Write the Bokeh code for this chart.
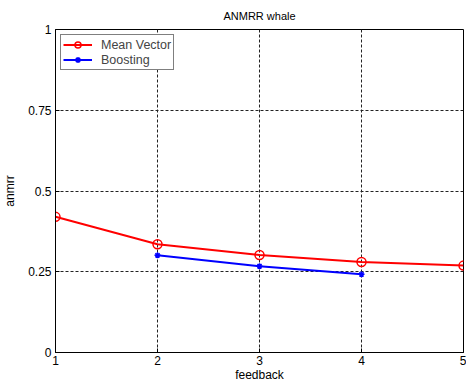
from bokeh.plotting import figure
from bokeh.models import FixedTicker, Range1d, Legend, LegendItem
from bokeh.embed import file_html
from bokeh.resources import INLINE

feedback = [1, 2, 3, 4, 5]
mean_vector = [0.42, 0.335, 0.302, 0.280, 0.269]
boost_x = [2, 3, 4]
boosting = [0.301, 0.267, 0.242]
x_ticks = [1, 2, 3, 4, 5]
y_ticks = [0, 0.25, 0.5, 0.75, 1]
y_tick_labels = ["0", "0.25", "0.5", "0.75", "1"]

FONT = "Liberation Sans"

p = figure(frame_width=408, frame_height=323, output_backend="svg", toolbar_location=None,
           x_range=Range1d(1, 5), y_range=Range1d(0, 1),
           min_border_left=0, min_border_right=3, min_border_top=0, min_border_bottom=0)

p.title.text = "ANMRR whale"
p.title.align = "center"
p.title.text_font = FONT
p.title.text_font_size = "11px"
p.title.text_font_style = "normal"
p.title.text_color = "black"
p.title.standoff = 15

for ax in [p.xaxis[0], p.yaxis[0]]:
    ax.major_tick_in = 4
    ax.major_tick_out = 0
    ax.minor_tick_line_color = None
    ax.major_label_text_font = FONT
    ax.major_label_text_font_size = "12px"
    ax.major_label_text_color = "black"
    ax.axis_label_text_font = FONT
    ax.axis_label_text_font_size = "12px"
    ax.axis_label_text_font_style = "normal"
    ax.axis_label_text_color = "black"
    ax.axis_line_color = "black"
    ax.major_tick_line_color = "black"

p.xaxis[0].ticker = FixedTicker(ticks=x_ticks)
p.yaxis[0].ticker = FixedTicker(ticks=y_ticks)
p.yaxis[0].major_label_overrides = {t: l for t, l in zip(y_ticks, y_tick_labels)}
p.xaxis[0].axis_label = "feedback"
p.yaxis[0].axis_label = "anmrr"
p.xaxis[0].axis_label_standoff = 0
p.yaxis[0].axis_label_standoff = 8
p.xaxis[0].major_label_standoff = 3
p.yaxis[0].major_label_standoff = 4

p.outline_line_color = "black"
p.outline_line_alpha = 1.0
for g in [p.xgrid[0], p.ygrid[0]]:
    g.grid_line_color = "#222222"
    g.grid_line_dash = "3 2"
    g.grid_line_width = 1
p.xgrid[0].ticker = FixedTicker(ticks=x_ticks)
p.ygrid[0].ticker = FixedTicker(ticks=y_ticks)

r1 = p.line(feedback, mean_vector, line_color="red", line_width=2)
c1 = p.scatter(feedback, mean_vector, marker="circle", size=9, line_color="red",
               fill_color=None, line_width=1.5)
r2 = p.line(boost_x, boosting, line_color="blue", line_width=2)
c2 = p.scatter(boost_x, boosting, marker="asterisk", size=6, line_color="blue", line_width=1.5)

legend = Legend(items=[LegendItem(label="Mean Vector", renderers=[r1, c1]),
                       LegendItem(label="Boosting", renderers=[r2, c2])],
                location="top_left", margin=5, padding=2, spacing=0,
                label_height=15, glyph_height=15, glyph_width=29, label_standoff=9,
                label_text_font=FONT, label_text_font_size="12.5px",
                border_line_color="black", border_line_width=1,
                background_fill_alpha=1.0)
p.add_layout(legend, "center")

open("out.html", "w").write(file_html(p, INLINE))
